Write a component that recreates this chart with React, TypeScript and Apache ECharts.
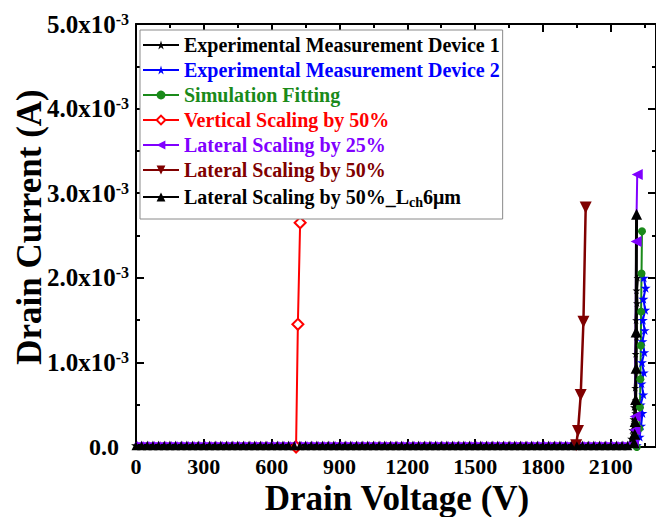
import React, { useEffect, useRef } from "react";
import * as echarts from "echarts";

const FONT = "'Liberation Serif','Times New Roman',serif";

// Drain voltage sweep (V) for the off-state part of every curve
const sweepV = [0,25,50,75,100,125,150,175,200,225,250,275,300,325,350,375,400,425,450,475,500,525,550,575,600,625,650,675,700,725,750,775,800,825,850,875,900,925,950,975,1000,1025,1050,1075,1100,1125,1150,1175,1200,1225,1250,1275,1300,1325,1350,1375,1400,1425,1450,1475,1500,1525,1550,1575,1600,1625,1650,1675,1700,1725,1750,1775,1800,1825,1850,1875,1900,1925,1950,1975,2000,2025,2050,2075,2100,2125,2150,2175,2200];

const xTicks = [0, 300, 600, 900, 1200, 1500, 1800, 2100];

// Series names
const names = [
  "Experimental Measurement Device 1",
  "Experimental Measurement Device 2",
  "Simulation Fitting",
  "Vertical Scaling by 50%",
  "Lateral Scaling by 25%",
  "Lateral Scaling by 50%",
  "Lateral Scaling by 50%_Lch6μm",
];
const colors = ["#000000", "#0000ff", "#1a8a1a", "#ff0000", "#8000ff", "#800000", "#000000"];

// Off-state leakage (A) and last off-state voltage (V)
const leakI = [2.0e-5, 1.0e-5, 1.0e-5, 0, 4.5e-5, 1.0e-5, 1.5e-5];
const offEndV = [2175, 2200, 2200, 700, 2175, 1925, 2175];

// Breakdown (rise) points: voltage (V) and current (mA)
const dev1V = [2185, 2195, 2190, 2200, 2196, 2205, 2200, 2208, 2203, 2210, 2208, 2212, 2210, 2214, 2212, 2216, 2214, 2218];
const dev1I = [0.03, 0.06, 0.1, 0.15, 0.2, 0.27, 0.33, 0.4, 0.47, 0.55, 0.7, 0.9, 1.1, 1.3, 1.5, 1.7, 1.85, 2.0];
const dev2V = [2215, 2228, 2234, 2240, 2232, 2244, 2236, 2246, 2238, 2248, 2240, 2250, 2242, 2252, 2244, 2254, 2246];
const dev2I = [0.02, 0.12, 0.25, 0.4, 0.5, 0.62, 0.75, 0.88, 1.0, 1.12, 1.25, 1.38, 1.5, 1.62, 1.75, 1.88, 2.0];
const simV = [2215, 2226, 2229, 2231, 2233, 2234, 2236, 2238];
const simI = [0.0, 0.22, 0.47, 0.8, 1.2, 1.6, 2.05, 2.55];
const vertV = [708, 716, 726];
const vertI = [0.0, 1.45, 2.65];
const lat25V = [2200, 2207, 2208, 2212, 2217];
const lat25I = [0.04, 0.2, 0.36, 2.43, 3.22];
const lat50V = [1947, 1955, 1967, 1979, 1989];
const lat50I = [0.02, 0.19, 0.615, 1.48, 2.83];
const lch6V = [2203, 2206, 2208, 2210, 2212, 2212, 2214];
const lch6I = [0.05, 0.15, 0.3, 0.56, 0.93, 1.36, 2.75];

const riseV = [dev1V, dev2V, simV, vertV, lat25V, lat50V, lch6V];
const riseI = [dev1I, dev2I, simI, vertI, lat25I, lat50I, lch6I];

const STAR = "path://M50,0 L61,35 L98,35 L68,57 L79,91 L50,70 L21,91 L32,57 L2,35 L39,35 Z";
const symbols = [STAR, STAR, "circle", "diamond", "triangle", "triangle", "triangle"];
const rotates = [0, 0, 0, 0, 90, 180, 0];
const sizes = [8, 10, 8, 11, 11, 12, 11];
const baseSizes = [10, 0, 0, 0, 4, 0, 9];

export default function App() {
  const ref = useRef<HTMLDivElement>(null);
  useEffect(() => {
    if (!ref.current) return;
    const chart = echarts.init(ref.current, undefined, { renderer: "svg" });

    const series = names.map((name, k) => {
      const base = sweepV
        .filter((v) => v <= offEndV[k])
        .map((v) => ({ value: [v, leakI[k]], symbolSize: baseSizes[k] }));
      const rise = riseV[k].map((v, i) => ({ value: [v, riseI[k][i] * 1e-3] }));
      const hollow = k === 3;
      return {
        name,
        type: "line",
        xAxisIndex: 0,
        yAxisIndex: 0,
        data: [...base, ...rise],
        symbol: symbols[k],
        symbolRotate: rotates[k],
        symbolSize: sizes[k],
        symbolKeepAspect: true,
        lineStyle: { color: colors[k], width: k === 5 ? 2.5 : k === 6 || k === 0 ? 3 : 2 },
        itemStyle: hollow
          ? { color: "#ffffff", borderColor: colors[k], borderWidth: 2 }
          : { color: colors[k] },
        emphasis: { disabled: true },
        clip: false,
      };
    });

    const axisCommon = {
      axisLine: { show: true, onZero: false, lineStyle: { color: "#000", width: 2 } },
      axisTick: { show: true, inside: true, length: 8, lineStyle: { color: "#000", width: 2 } },
      minorTick: { show: true, splitNumber: 2, length: 4, lineStyle: { color: "#000", width: 2 } },
      splitLine: { show: false },
    };

    chart.setOption({
      animation: false,
      backgroundColor: "#ffffff",
      grid: { left: 136, top: 24, width: 527, height: 423, containLabel: false },
      xAxis: [
        {
          type: "value",
          min: 0,
          max: 2300,
          interval: 300,
          position: "bottom",
          ...axisCommon,
          axisLabel: {
            show: true,
            margin: 8,
            showMaxLabel: false,
            fontFamily: FONT,
            fontWeight: "bold",
            fontSize: 22,
            color: "#000",
            formatter: (v: number) => (xTicks.includes(v) ? String(v) : ""),
          },
        },
        {
          type: "value",
          min: 0,
          max: 2300,
          interval: 300,
          position: "top",
          ...axisCommon,
          axisLabel: { show: false },
        },
      ],
      yAxis: [
        {
          type: "value",
          min: 0,
          max: 5e-3,
          interval: 1e-3,
          position: "left",
          ...axisCommon,
          axisLabel: {
            show: true,
            margin: 7,
            fontFamily: FONT,
            fontWeight: "bold",
            fontSize: 25,
            color: "#000",
            formatter: (v: number) => {
              if (Math.abs(v) < 1e-9) return "{z|0.0}";
              return "{b|" + (v * 1000).toFixed(1) + "x10}{s|-3}";
            },
            rich: {
              b: { fontFamily: FONT, fontWeight: "bold", fontSize: 25, color: "#000", lineHeight: 26 },
              z: { fontFamily: FONT, fontWeight: "bold", fontSize: 24, color: "#000", lineHeight: 26, padding: [0, 10, 0, 0] },
              s: { fontFamily: FONT, fontWeight: "bold", fontSize: 16, color: "#000", lineHeight: 26, verticalAlign: "top" },
            },
          },
        },
        {
          type: "value",
          min: 0,
          max: 5e-3,
          interval: 1e-3,
          position: "right",
          ...axisCommon,
          axisLabel: { show: false },
        },
      ],
      legend: {
        show: true,
        orient: "vertical",
        left: 140,
        top: 30,
        padding: [5, 3, 10, 2],
        itemGap: 5,
        itemWidth: 36,
        itemHeight: 11,
        selectedMode: false,
        borderColor: "#8a8a8a",
        borderWidth: 1,
        backgroundColor: "#ffffff",
        textStyle: {
          fontFamily: FONT,
          fontWeight: "bold",
          fontSize: 20,
          lineHeight: 20,
          rich: {
            t: { fontFamily: FONT, fontWeight: "bold", fontSize: 20, color: "#000", lineHeight: 20 },
            s: { fontFamily: FONT, fontWeight: "bold", fontSize: 14, color: "#000", lineHeight: 20, padding: [10, 0, 0, 0] },
          },
        },
        formatter: (name: string) =>
          name === names[6] ? "{t|Lateral Scaling by 50%_L}{s|ch}{t|6μm}" : name,
        data: names.map((n, k) => ({
          name: n,
          textStyle: { color: colors[k] },
          lineStyle: { width: 2 },
        })),
      },
      graphic: [
        {
          type: "text",
          x: 397,
          y: 498,
          style: {
            text: "Drain Voltage (V)",
            font: "bold 35px " + FONT,
            fill: "#000",
            textAlign: "center",
            textVerticalAlign: "middle",
            align: "center",
            verticalAlign: "middle",
          },
        },
        {
          type: "text",
          x: 29,
          y: 227,
          rotation: Math.PI / 2,
          style: {
            text: "Drain Current (A)",
            font: "bold 35px " + FONT,
            fill: "#000",
            textAlign: "center",
            textVerticalAlign: "middle",
            align: "center",
            verticalAlign: "middle",
          },
        },
      ],
      series,
    });
    return () => chart.dispose();
  }, []);
  return (
    <div
      ref={ref}
      style={{ position: "fixed", left: 0, top: 0, width: 656, height: 517, overflow: "hidden" }}
    />
  );
}
